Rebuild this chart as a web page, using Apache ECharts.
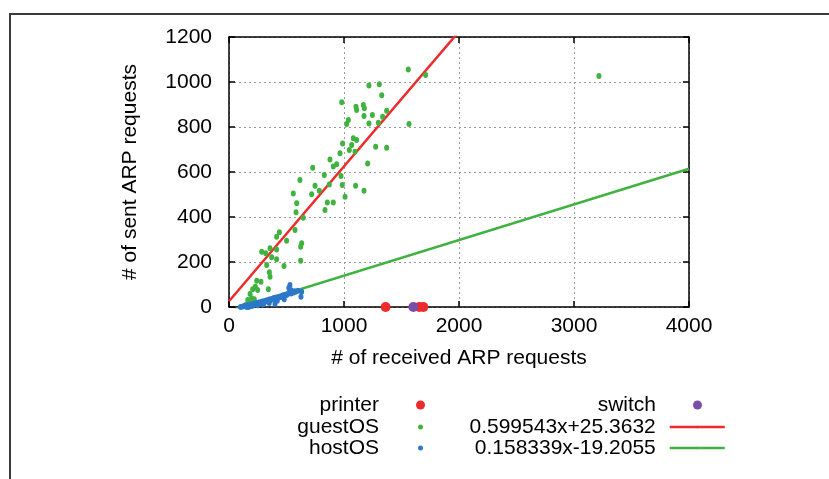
<!DOCTYPE html>
<html>
<head>
<meta charset="utf-8">
<script src="https://cdn.jsdelivr.net/npm/echarts@6/dist/echarts.min.js"></script>
<style>
  html, body { margin: 0; padding: 0; background: #fff; }
  #frame { position: absolute; left: 9px; top: 13px; width: 830px; height: 470px;
           border-top: 2px solid #3a3a3a; border-left: 2px solid #3a3a3a; }
  #main { position: absolute; left: 0; top: 0; width: 829px; height: 479px; }
</style>
</head>
<body>
<div id="frame"></div>
<div id="main"></div>
<script>
// 坐标轴刻度
const xTicks = [0, 1000, 2000, 3000, 4000];
const yTicks = [0, 200, 400, 600, 800, 1000, 1200];

// 打印机 / 交换机
const printerPts = [[1362, 0], [1655, 0], [1690, 0]];
const switchPts = [[1603, 0]];

// guestOS 散点
const guestPts = [
  [1559, 1056], [1710, 1031], [1217, 984], [1307, 990], [1328, 941], [980, 910],
  [1104, 890], [1168, 898], [1110, 876], [1177, 883], [1371, 872], [1038, 831],
  [1023, 813], [1174, 849], [1247, 853], [1217, 816], [1299, 819], [1336, 846],
  [1565, 813], [1081, 750], [1110, 742], [988, 727], [1067, 720], [1046, 698],
  [1096, 690], [1275, 712], [1371, 708], [965, 683], [878, 656], [936, 634],
  [907, 624], [974, 582], [985, 542], [1009, 490], [1206, 638], [1101, 539],
  [1174, 517], [728, 619], [829, 587], [617, 564], [748, 539], [785, 517],
  [719, 501], [559, 505], [872, 545], [589, 461], [855, 464], [907, 464],
  [835, 431], [583, 421], [646, 397], [574, 342], [438, 332], [414, 312],
  [501, 295], [357, 261], [414, 256], [632, 283], [623, 268], [623, 206],
  [284, 246], [319, 239], [371, 221], [478, 182], [414, 212], [328, 187],
  [351, 154], [357, 135], [241, 117], [278, 112], [229, 90], [249, 76],
  [206, 79], [342, 79], [183, 58], [197, 39], [163, 31], [145, 9], [220, 34],
  [180, 15], [210, 20], [3217, 1027]
];

// hostOS 散点
const hostPts = [
  [100, 0], [120, 2], [135, 5], [150, 3], [154, 0], [160, 8], [170, 0], [180, 10],
  [190, 6], [200, 12], [210, 9], [220, 15], [230, 11], [240, 18], [250, 14],
  [260, 20], [270, 16], [280, 22], [290, 25], [300, 19], [310, 27], [320, 24],
  [330, 30], [340, 28], [350, 33], [360, 30], [370, 36], [380, 34], [390, 40],
  [400, 13], [400, 38], [410, 42], [420, 39], [430, 45], [440, 43], [450, 48],
  [460, 46], [470, 52], [480, 50], [490, 55], [500, 53], [510, 58], [520, 62],
  [530, 98], [540, 60], [550, 66], [560, 64], [570, 70], [580, 68], [600, 72],
  [626, 46], [632, 68], [200, 4], [250, 8], [300, 12], [350, 18], [420, 28],
  [480, 35], [520, 85], [540, 75]
];

// 拟合直线
const fitNames = ['0.599543x+25.3632', '0.158339x-19.2055'];
const fitSlopes = [0.599543, 0.158339];
const fitIntercepts = [25.3632, -19.2055];

const FONT = 'Liberation Sans';
const RED = '#ee2a2a', GREEN = '#3fb23f', BLUE = '#2d78c8', PURPLE = '#7a4ea6';

function fitLine (i) {
  return [0, 4000].map(x => [x, fitSlopes[i] * x + fitIntercepts[i]]);
}

// 图例 (gnuplot 风格: 文字右对齐, 图标在右)
function legendRow (name, right, centerY, iconH) {
  return {
    data: [name],
    orient: 'vertical',
    align: 'right',
    right: right,
    top: centerY - 16,
    itemWidth: 55,
    itemHeight: iconH,
    itemGap: 0,
    selectedMode: false,
    lineStyle: { width: 2.5 },
    textStyle: {
      fontFamily: FONT,
      fontSize: 21,
      color: '#000',
      lineHeight: 22,
      padding: [0, 9, 0, 0]
    }
  };
}

function mainAxisX () {
  return {
    type: 'value', min: xTicks[0], max: xTicks[xTicks.length - 1], interval: 1000,
    axisLine: { show: true, onZero: false, lineStyle: { color: '#000', width: 1.5 } },
    axisTick: { show: true, inside: true, length: 6, lineStyle: { color: '#000', width: 1.5 } },
    axisLabel: { fontFamily: FONT, fontSize: 21, color: '#000', margin: 9, formatter: v => String(v) },
    splitLine: { show: true, lineStyle: { color: '#9a9a9a', type: [2, 3], width: 1 } },
    name: '# of received ARP requests',
    nameLocation: 'middle',
    nameGap: 41,
    nameTextStyle: { fontFamily: FONT, fontSize: 21, color: '#000' }
  };
}

function mainAxisY () {
  return {
    type: 'value', min: yTicks[0], max: yTicks[yTicks.length - 1], interval: 200,
    axisLine: { show: true, onZero: false, lineStyle: { color: '#000', width: 1.5 } },
    axisTick: { show: true, inside: true, length: 6, lineStyle: { color: '#000', width: 1.5 } },
    axisLabel: { fontFamily: FONT, fontSize: 21, color: '#000', margin: 17, formatter: v => String(v) },
    splitLine: { show: true, lineStyle: { color: '#9a9a9a', type: [2, 3], width: 1 } },
    name: '# of sent ARP requests',
    nameLocation: 'middle',
    nameGap: 88,
    nameTextStyle: { fontFamily: FONT, fontSize: 21, color: '#000' }
  };
}

// 镜像刻度 (上/右)
function mirrorAxis (base, position) {
  return {
    type: 'value', position: position,
    min: base.min, max: base.max, interval: base.interval,
    axisLine: { show: true, onZero: false, lineStyle: { color: '#000', width: 1.5 } },
    axisTick: { show: true, inside: true, length: 6, lineStyle: { color: '#000', width: 1.5 } },
    axisLabel: { show: false },
    splitLine: { show: false }
  };
}

const chart = echarts.init(document.getElementById('main'), null, { renderer: 'canvas' });
const xMain = mainAxisX();
const yMain = mainAxisY();

const option = {
  backgroundColor: 'transparent',
  animation: false,
  grid: { left: 229, top: 37, right: 140, bottom: 172, containLabel: false },
  xAxis: [xMain, mirrorAxis(xMain, 'top')],
  yAxis: [yMain, mirrorAxis(yMain, 'right')],
  legend: [
    legendRow('printer', 399, 405, 9),
    legendRow('guestOS', 401, 427, 5),
    legendRow('hostOS', 401, 448, 5),
    legendRow('switch', 122, 405, 9),
    legendRow(fitNames[0], 98, 427, 3),
    legendRow(fitNames[1], 98, 448, 3)
  ],
  series: [
    {
      name: fitNames[0], type: 'line', data: fitLine(0), symbol: 'none', clip: true,
      lineStyle: { color: RED, width: 2.5 }, itemStyle: { color: RED }, z: 3
    },
    {
      name: fitNames[1], type: 'line', data: fitLine(1), symbol: 'none', clip: true,
      lineStyle: { color: GREEN, width: 2.5 }, itemStyle: { color: GREEN }, z: 3
    },
    {
      name: 'guestOS', type: 'scatter', data: guestPts, symbol: 'circle',
      symbolSize: [5, 6], itemStyle: { color: GREEN, opacity: 1 }, z: 4
    },
    {
      name: 'hostOS', type: 'scatter', data: hostPts, symbol: 'circle',
      symbolSize: [5, 6], itemStyle: { color: BLUE, opacity: 1 }, z: 4
    },
    {
      name: 'printer', type: 'scatter', data: printerPts, symbol: 'circle', clip: false,
      symbolSize: 10, itemStyle: { color: RED, opacity: 1 }, z: 5
    },
    {
      name: 'switch', type: 'scatter', data: switchPts, symbol: 'circle', clip: false,
      symbolSize: 10, itemStyle: { color: PURPLE, opacity: 1 }, z: 5
    }
  ]
};

chart.setOption(option);
</script>
</body>
</html>
